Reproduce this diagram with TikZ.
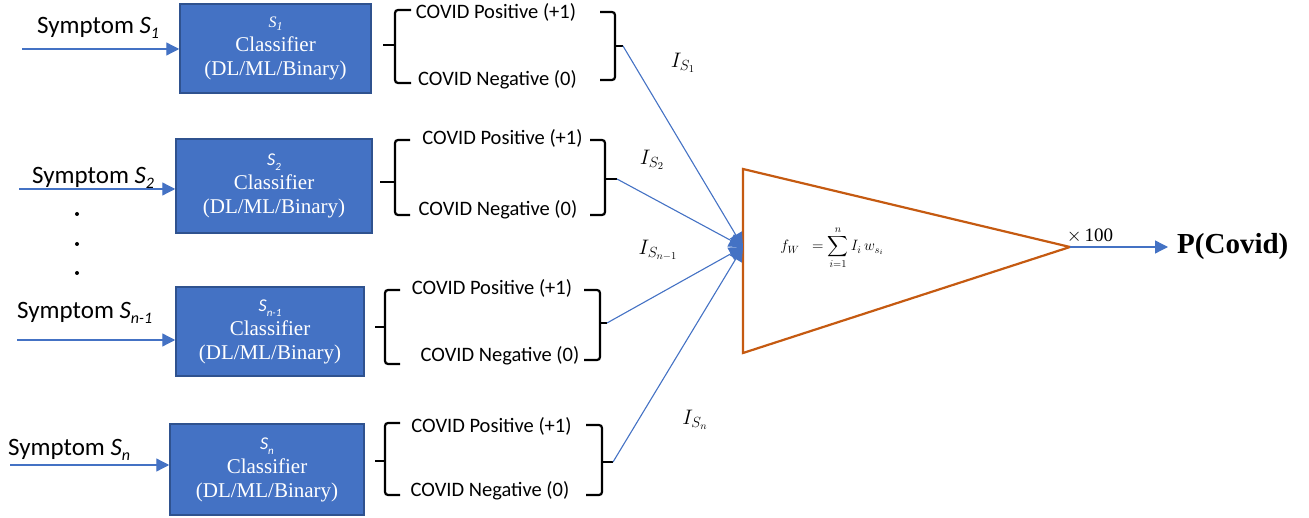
\RequirePackage{fix-cm}
\documentclass[tikz,border=0pt]{standalone}
\usepackage{exscale}
\usepackage{fontspec}
\setmainfont{Liberation Serif}
\newfontfamily\calib{Carlito}
\usetikzlibrary{arrows.meta}
\definecolor{boxblue}{HTML}{4472C4}
\definecolor{boxedge}{HTML}{2F528F}
\definecolor{linkblue}{HTML}{4472C4}
\definecolor{triorange}{HTML}{C55A11}
\newcommand{\boxsub}[1]{{\calib\itshape\fontsize{18}{18}\selectfont S}\raisebox{-5pt}{\calib\itshape\fontsize{11}{11}\selectfont #1}}
\newcommand{\symsub}[1]{{\itshape S}\raisebox{-5pt}{\itshape\fontsize{16}{16}\selectfont #1}}
\begin{document}
\begin{tikzpicture}[x=1pt,y=-1pt,
 clsbox/.style={draw=boxedge, line width=1.5pt, fill=boxblue, inner sep=0pt},
 clstext/.style={text=white, align=center, font=\fontsize{21}{24}\selectfont, inner sep=0pt},
 symlabel/.style={font=\calib\fontsize{25}{28}\selectfont, inner sep=0pt, anchor=west},
 outtext/.style={font=\calib\fontsize{20.5}{22}\selectfont, inner sep=0pt},
 inarrow/.style={draw=linkblue, line width=1.3pt, -{Triangle[length=13pt,width=13pt]}},
 link/.style={draw=linkblue, line width=1.1pt, -{Triangle[length=14pt,width=14pt]}},
 bracket/.style={draw=black, line width=2.2pt, rounded corners=3pt},
 ilabel/.style={font=\fontsize{21}{23}\selectfont, inner sep=0pt},
 dotmark/.style={circle, fill=black, inner sep=0pt, minimum size=4pt},
]
\useasboundingbox (0,0) rectangle (1309,518);

% classifier boxes
\node[clsbox, minimum width=191pt, minimum height=89pt] (box1) at (275.5,48.5) {};
\node[clsbox, minimum width=196pt, minimum height=94pt] (box2) at (274,186) {};
\node[clsbox, minimum width=188pt, minimum height=89pt] (box3) at (270,331.5) {};
\node[clsbox, minimum width=194pt, minimum height=91pt] (box4) at (267,469.5) {};

\node[clstext] (bt1) at (box1.center) {{\itshape\fontsize{16}{16}\selectfont S\raisebox{-3pt}{\fontsize{12}{12}\selectfont 1}}\\Classifier\\(DL/ML/Binary)};
\node[clstext] (bt2) at (box2.center) {\boxsub{2}\\Classifier\\(DL/ML/Binary)};
\node[clstext] (bt3) at (box3.center) {\boxsub{n-1}\\Classifier\\(DL/ML/Binary)};
\node[clstext] (bt4) at (box4.center) {\boxsub{n}\\Classifier\\(DL/ML/Binary)};

% symptom labels and inputs
\node[symlabel] (s1) at (37,28) {Symptom \symsub{1}};
\node[symlabel] (s2) at (32,178) {Symptom \symsub{2}};
\node[symlabel] (s3) at (17,313) {Symptom \symsub{n-1}};
\node[symlabel] (s4) at (8,450) {Symptom \symsub{n}};

\coordinate (a1) at (22,49);
\coordinate (a2) at (19,189);
\coordinate (a3) at (17,340);
\coordinate (a4) at (10,465);
\draw[inarrow] (a1) -- (a1 -| box1.west);
\draw[inarrow] (a2) -- (a2 -| box2.west);
\draw[inarrow] (a3) -- (a3 -| box3.west);
\draw[inarrow] (a4) -- (a4 -| box4.west);

% dots
\node[dotmark] (d1) at (77,214) {};
\node[dotmark] (d2) at (77,244) {};
\node[dotmark] (d3) at (77,273) {};

% outcome texts
\node[outtext] (p1) at (496,12) {COVID Positive (+1)};
\node[outtext] (n1) at (497.5,80) {COVID Negative (0)};
\node[outtext] (p2) at (502.5,138) {COVID Positive (+1)};
\node[outtext] (n2) at (498,210) {COVID Negative (0)};
\node[outtext] (p3) at (492,288) {COVID Positive (+1)};
\node[outtext] (n3) at (500,356) {COVID Negative (0)};
\node[outtext] (p4) at (491.5,426) {COVID Positive (+1)};
\node[outtext] (n4) at (490,491) {COVID Negative (0)};

% left braces
\draw[bracket] (411,10) -- (395,10) -- (395,83) -- (411,83);
\draw[bracket] (383,45) -- (395,45);
\draw[bracket] (410,140) -- (395,140) -- (395,215) -- (410,215);
\draw[bracket] (380,182) -- (395,182);
\draw[bracket] (400,290) -- (385,290) -- (385,364) -- (400,364);
\draw[bracket] (375,327) -- (385,327);
\draw[bracket] (400,423) -- (385,423) -- (385,495) -- (400,495);
\draw[bracket] (375,461) -- (385,461);

% right brackets
\draw[bracket] (600,12) -- (615,12) -- (615,80) -- (600,80);
\draw[bracket] (615,46) -- (623,46) coordinate (r1);
\draw[bracket] (590,140) -- (605,140) -- (605,215) -- (590,215);
\draw[bracket] (605,179) -- (617,179) coordinate (r2);
\draw[bracket] (584,290) -- (600,290) -- (600,360) -- (584,360);
\draw[bracket] (600,323) -- (607,323) coordinate (r3);
\draw[bracket] (586,425) -- (602,425) -- (602,495) -- (586,495);
\draw[bracket] (602,462) -- (613,462) coordinate (r4);

% triangle
\coordinate (ta) at (743,169);
\coordinate (tb) at (743,353);
\coordinate (tc) at (1070,247);
\coordinate (tin) at (743,247);
\draw[triorange, line width=2.2pt, line join=miter] (ta) -- (tc) -- (tb) -- cycle;

% connectors
\draw[link] (r1) -- (tin);
\draw[link] (r2) -- (tin);
\draw[link] (r3) -- (tin);
\draw[link] (r4) -- (tin);

% I labels
\node[ilabel] (i1) at (683,63) {$I_{S_1}$};
\node[ilabel] (i2) at (652,160) {$I_{S_2}$};
\node[ilabel] (i3) at (658,250) {$I_{S_{n-1}}$};
\node[ilabel] (i4) at (695,420) {$I_{S_n}$};

% formula
\node[font=\fontsize{15}{17}\selectfont, inner sep=0pt] (fw) at (832,248) {$f_W\;\;=\displaystyle\sum_{i=1}^{n} I_i\, w_{s_i}$};

% output
\node[anchor=west, inner sep=0pt, font=\bfseries\fontsize{29}{32}\selectfont] (pc) at (1177,247) {P(Covid)};
\draw[inarrow, shorten >=9pt] (tc) -- (pc.west);
\node[inner sep=0pt, font=\fontsize{19}{21}\selectfont] (x100) at (1090,236) {$\times$\,100};
\end{tikzpicture}
\end{document}
